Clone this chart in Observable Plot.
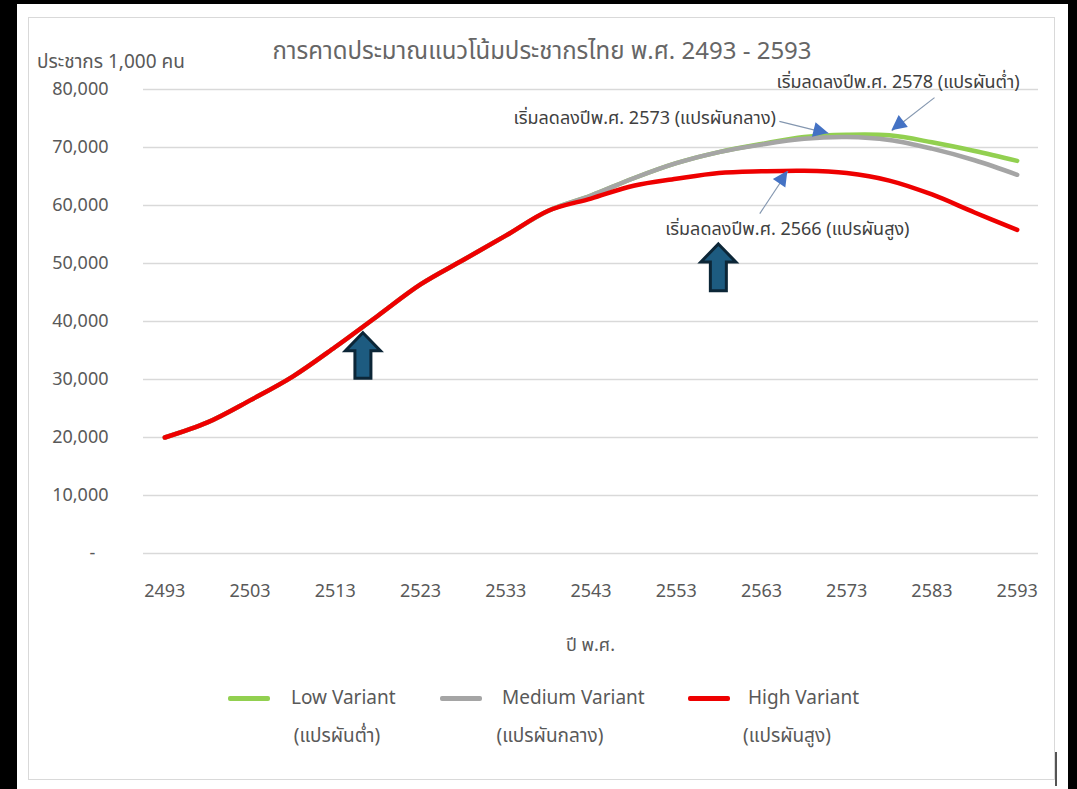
<!DOCTYPE html>
<html>
<head>
<meta charset="utf-8">
<script src="https://cdn.jsdelivr.net/npm/d3@7"></script>
<script src="https://cdn.jsdelivr.net/npm/@observablehq/plot@0.6"></script>
<style>
  html, body { margin: 0; padding: 0; }
  body { width: 1077px; height: 789px; background: #000; position: relative; overflow: hidden;
         font-family: "Noto Sans", "Noto Sans Thai", "Open Sans", sans-serif; color: #595959; }
  #panel { position: absolute; left: 17px; top: 4px; width: 1051px; height: 785px; background: #fff; }
  #frame { position: absolute; left: 28px; top: 17px; width: 1027px; height: 763px; border: 1px solid #d9d9d9; box-sizing: border-box; }
  #mark { position: absolute; left: 1055px; top: 752px; width: 1.5px; height: 34px; background: #555; }
  #chart { position: absolute; left: 0; top: 0; }
  .abs { position: absolute; white-space: nowrap; }
  #title { left: 28px; width: 1028px; top: 33px; text-align: center; font-size: 24px; color: #666; }
  #ylabel { left: 37px; top: 48px; font-size: 19px; color: #595959; }
  #xlabel { left: 143px; width: 895px; top: 632px; text-align: center; font-size: 18px; color: #595959; }
  .sw { position: absolute; height: 5px; width: 42px; border-radius: 2px; }
  .lg { position: absolute; font-size: 19px; color: #595959; white-space: nowrap; }
</style>
</head>
<body>
<div id="panel"></div>
<div id="frame"></div>
<div id="mark"></div>
<div id="chart"></div>
<div id="title" class="abs">การคาดประมาณแนวโน้มประชากรไทย พ.ศ. 2493 - 2593</div>
<div id="ylabel" class="abs">ประชากร 1,000 คน</div>
<div id="xlabel" class="abs">ปี พ.ศ.</div>
<div id="legend"></div>
<script>
// ---- data (thousand persons), every 5 years ----
const years  = [2493, 2498, 2503, 2508, 2513, 2518, 2523, 2528, 2533, 2538, 2543, 2548, 2553, 2558, 2563, 2568, 2573, 2578, 2583, 2588, 2593];
const low    = [20000, 22600, 26400, 30500, 35600, 41000, 46400, 50600, 54800, 59100, 61700, 64700, 67300, 69200, 70600, 71800, 72200, 72100, 70900, 69400, 67700];
const medium = [20000, 22600, 26400, 30500, 35600, 41000, 46400, 50600, 54800, 59100, 61700, 64700, 67300, 69200, 70500, 71500, 71800, 71300, 69800, 67800, 65300];
const high   = [20000, 22600, 26400, 30500, 35600, 41000, 46400, 50600, 54800, 59100, 61200, 63400, 64600, 65600, 65900, 66000, 65600, 64300, 61900, 58800, 55800];

const seriesNames = ["Low Variant", "Medium Variant", "High Variant"];
const seriesThai  = ["(แปรผันต่ำ)", "(แปรผันกลาง)", "(แปรผันสูง)"];
const seriesColors = ["#92d050", "#a5a5a5", "#ee0000"];

const xTicks = [2493, 2503, 2513, 2523, 2533, 2543, 2553, 2563, 2573, 2583, 2593];
const yTicks = [0, 10000, 20000, 30000, 40000, 50000, 60000, 70000, 80000];

// annotations (data coordinates)
const noteText   = ["เริ่มลดลงปีพ.ศ. 2578 (แปรผันต่ำ)", "เริ่มลดลงปีพ.ศ. 2573 (แปรผันกลาง)", "เริ่มลดลงปีพ.ศ. 2566 (แปรผันสูง)"];
const noteX      = [2593.3, 2564.7, 2551.7];
const noteY      = [81200, 75000, 55900];
const noteAnchor = ["end", "end", "start"];
const arrowFromX = [2583.3, 2565.1, 2562.8];
const arrowFromY = [78600, 74500, 58600];
const arrowToX   = [2578.3, 2570.9, 2566.1];
const arrowToY   = [72900, 72400, 65900];

// block up-arrows
const blockX       = [2516.3, 2558.0];
const blockTopY    = [37980, 53280];
const blockBottomY = [30120, 45220];

const FONT = '"Noto Sans", "Noto Sans Thai", "Open Sans", sans-serif';

const seriesData = [low, medium, high].map((vals, s) =>
  years.map((yr, i) => ({year: yr, value: vals[i], series: seriesNames[s]})));

const notes = noteText.map((t, i) => ({text: t, x: noteX[i], y: noteY[i], anchor: noteAnchor[i],
  x1: arrowFromX[i], y1: arrowFromY[i], x2: arrowToX[i], y2: arrowToY[i]}));

const chart = Plot.plot({
  width: 1077,
  height: 620,
  marginLeft: 143,
  marginRight: 39,
  marginTop: 89,
  marginBottom: 67,
  style: {fontFamily: FONT, fontSize: "18px", color: "#595959", background: "transparent", overflow: "visible"},
  x: {domain: [2490.5, 2595.5], ticks: xTicks, tickFormat: d => String(d), tickSize: 0, tickPadding: 31, label: null},
  y: {domain: [0, 80000], ticks: yTicks, tickSize: 0, tickPadding: 35, label: null,
      tickFormat: d => d === 0 ? "-\u2007\u2009" : d3.format(",")(d)},
  marks: [
    Plot.ruleY(yTicks, {stroke: "#d9d9d9", strokeWidth: 1.5}),
    ...seriesData.map((rows, s) => Plot.line(rows, {x: "year", y: "value", stroke: seriesColors[s],
       strokeWidth: 4.5, curve: "catmull-rom", strokeLinecap: "round", strokeLinejoin: "round"})),
    Plot.link(notes, {x1: "x1", y1: "y1", x2: "x2", y2: "y2", stroke: "#8497b0", strokeWidth: 1.2}),
    ...notes.map(n => Plot.text([n], {x: "x", y: "y", text: "text", textAnchor: n.anchor,
       fill: "#404040", fontSize: 18}))
  ]
});
document.getElementById("chart").appendChild(chart);

// arrow heads and block arrows drawn through Plot's scales
const sx = chart.scale("x").apply, sy = chart.scale("y").apply;
const g = d3.select(chart).append("g");
notes.forEach(n => {
  const x1 = sx(n.x1), y1 = sy(n.y1), x2 = sx(n.x2), y2 = sy(n.y2);
  const a = Math.atan2(y2 - y1, x2 - x1), c = Math.cos(a), s = Math.sin(a);
  const L = 15, W = 7.5;
  const bx = x2 - L * c, by = y2 - L * s;
  g.append("path")
    .attr("d", `M${x2},${y2}L${bx - W * s},${by + W * c}L${bx + W * s},${by - W * c}Z`)
    .attr("fill", "#4472c4");
});
blockX.forEach((bxv, i) => {
  const cx = sx(bxv), ty = sy(blockTopY[i]), by = sy(blockBottomY[i]);
  const hw = 17.5, hh = 18, sw = 8;
  g.append("path")
    .attr("d", `M${cx},${ty}L${cx + hw},${ty + hh}L${cx + sw},${ty + hh}L${cx + sw},${by}L${cx - sw},${by}L${cx - sw},${ty + hh}L${cx - hw},${ty + hh}Z`)
    .attr("fill", "#1d5b80").attr("stroke", "#0c2637").attr("stroke-width", 3).attr("stroke-linejoin", "miter");
});

// legend
const legend = document.getElementById("legend");
const swLeft = [228, 440, 688], txtLeft = [291, 502, 748], thaiCenter = [337, 550, 787];
seriesNames.forEach((name, i) => {
  const sw = document.createElement("div");
  sw.className = "sw"; sw.style.left = swLeft[i] + "px"; sw.style.top = "696px"; sw.style.background = seriesColors[i];
  legend.appendChild(sw);
  const t = document.createElement("div");
  t.className = "lg"; t.textContent = name; t.style.left = txtLeft[i] + "px"; t.style.top = "684px";
  legend.appendChild(t);
  const th = document.createElement("div");
  th.className = "lg"; th.textContent = seriesThai[i];
  th.style.left = (thaiCenter[i] - 100) + "px"; th.style.width = "200px"; th.style.textAlign = "center"; th.style.top = "722px";
  legend.appendChild(th);
});
</script>
</body>
</html>
